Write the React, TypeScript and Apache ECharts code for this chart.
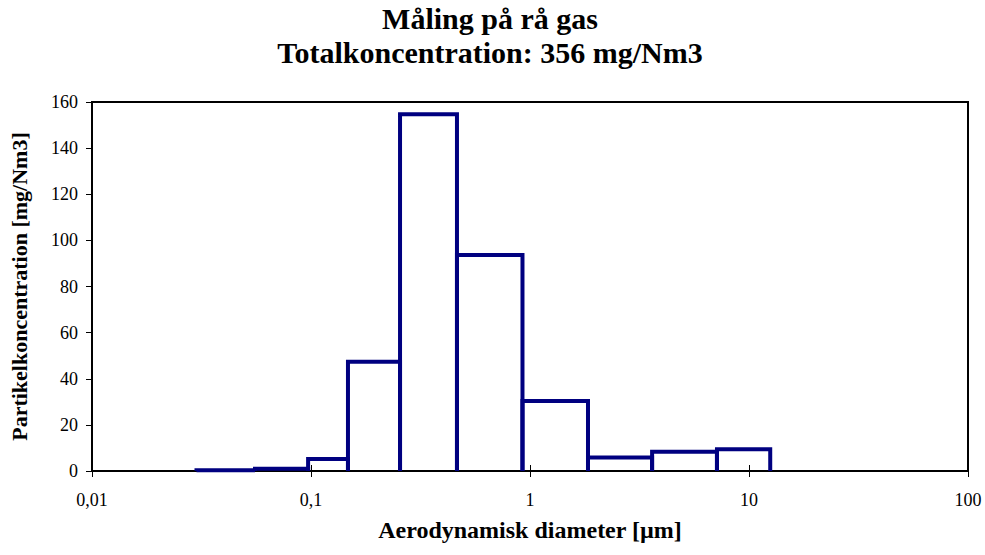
import React, { useEffect, useRef } from "react";
import * as echarts from "echarts";

const binLower = [0.03, 0.0555, 0.097, 0.1475, 0.255, 0.464, 0.924, 1.84, 3.61, 7.14];
const binUpper = [0.0555, 0.097, 0.1475, 0.255, 0.464, 0.924, 1.84, 3.61, 7.14, 12.5];
const concentration = [0.3, 1, 5.2, 47.4, 154.7, 93.7, 30.4, 5.9, 8.4, 9.4];

const titleLines = ["Måling på rå gas", "Totalkoncentration: 356 mg/Nm3"];
const xName = "Aerodynamisk diameter [µm]";
const yName = "Partikelkoncentration [mg/Nm3]";

const FONT = "Liberation Serif";
const NAVY = "#000080";

export default function App() {
  const ref = useRef<HTMLDivElement>(null);
  useEffect(() => {
    if (!ref.current) return;
    const chart = echarts.init(ref.current, undefined, { renderer: "svg" });
    const data = binLower.map((lo, i) => [lo, binUpper[i], concentration[i]]);
    const xCommon = {
      type: "log",
      logBase: 10,
      min: 0.01,
      max: 100,
      splitLine: { show: false },
      minorTick: { show: false },
    };
    chart.setOption({
      animation: false,
      backgroundColor: "#fff",
      textStyle: { fontFamily: FONT },
      title: {
        text: titleLines.join("\n"),
        left: 490,
        top: 1,
        padding: 0,
        textAlign: "center",
        textStyle: {
          fontFamily: FONT,
          fontWeight: "bold",
          fontSize: 30,
          lineHeight: 34,
          color: "#000",
        },
      },
      grid: {
        left: 92,
        right: 17,
        top: 102,
        bottom: 84,
        show: true,
        borderColor: "#000",
        borderWidth: 2,
        backgroundColor: "transparent",
        containLabel: false,
        outerBoundsMode: "none",
      },
      xAxis: [
        {
          ...xCommon,
          name: xName,
          nameLocation: "middle",
          nameGap: 47,
          nameTextStyle: { fontFamily: FONT, fontWeight: "bold", fontSize: 24, color: "#000" },
          axisLine: { show: true, lineStyle: { color: "#000", width: 2 } },
          axisTick: { show: true, inside: false, length: 6, lineStyle: { color: "#000", width: 1 } },
          axisLabel: {
            fontFamily: FONT,
            fontSize: 18,
            color: "#000",
            margin: 20,
            formatter: (v: number) => String(v).replace(".", ","),
          },
        },
        {
          ...xCommon,
          position: "bottom",
          axisLine: { show: false },
          axisTick: { show: true, inside: true, length: 6, lineStyle: { color: "#000", width: 1 } },
          axisLabel: { show: false },
        },
      ],
      yAxis: {
        type: "value",
        min: 0,
        max: 160,
        interval: 20,
        name: yName,
        nameLocation: "middle",
        nameGap: 62,
        nameTextStyle: { fontFamily: FONT, fontWeight: "bold", fontSize: 22, color: "#000" },
        splitLine: { show: false },
        axisLine: { show: true, lineStyle: { color: "#000", width: 2 } },
        axisTick: { show: true, inside: false, length: 6, lineStyle: { color: "#000", width: 1 } },
        axisLabel: { fontFamily: FONT, fontSize: 18, color: "#000", margin: 14 },
      },
      series: [
        {
          type: "custom",
          xAxisIndex: 0,
          yAxisIndex: 0,
          data,
          encode: { x: [0, 1], y: 2 },
          renderItem: (params: any, api: any) => {
            const lo = api.value(0);
            const hi = api.value(1);
            const v = api.value(2);
            const p0 = api.coord([lo, 0]);
            const p1 = api.coord([lo, v]);
            const p2 = api.coord([hi, v]);
            const p3 = api.coord([hi, 0]);
            return {
              type: "polyline",
              shape: { points: [p0, p1, p2, p3] },
              style: { stroke: NAVY, lineWidth: 4, fill: "none", lineJoin: "miter" },
            };
          },
          z: 5,
        },
      ],
    });
    return () => chart.dispose();
  }, []);
  return <div ref={ref} style={{ position: "fixed", left: 0, top: 0, width: 985, height: 555 }} />;
}
